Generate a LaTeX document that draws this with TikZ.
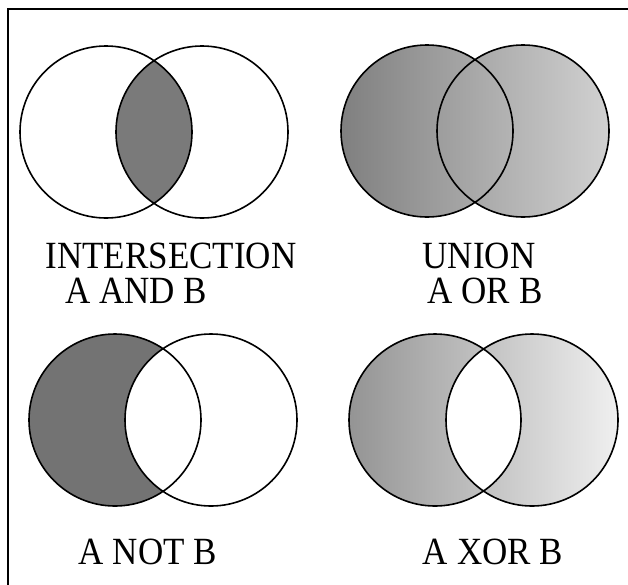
\documentclass[tikz,border=0pt]{standalone}
\usepackage{fontspec}
\setmainfont{Liberation Serif}
\begin{document}
\begin{tikzpicture}[x=1pt,y=-1pt,
        ring/.style={line width=1.6pt},
        label/.style={font=\fontsize{35}{40}\selectfont,inner sep=0pt}]

        \useasboundingbox (0,0) rectangle (628,584);
        \clip (0,0) rectangle (628,584);
        \draw[line width=2pt] (8,9) rectangle (660,620);

        % A AND B
        \coordinate (IA) at (106,132);
        \coordinate (IB) at (202,132);
        \begin{scope}
        \clip (IA) circle[radius=86pt];
        \fill[black!52] (IB) circle[radius=86pt];
        \end{scope}
        \draw[ring] (IA) circle[radius=86pt] (IB) circle[radius=86pt];
        \node[label] (inter) at (171,256) {\scalebox{1}[1.1]{INTERSECTION}};
        \node[label] (and)   at (136,291) {\scalebox{1}[1.1]{A AND B}};

        % A OR B
        \coordinate (UA) at (427,131);
        \coordinate (UB) at (523,131);
        \shade[left color=black!50,right color=black!18]
            (UA) circle[radius=86pt] (UB) circle[radius=86pt];
        \draw[ring] (UA) circle[radius=86pt] (UB) circle[radius=86pt];
        \node[label] (union) at (479,256) {\scalebox{1}[1.1]{UNION}};
        \node[label] (or)    at (485,291) {\scalebox{1}[1.1]{A OR B}};

        % A NOT B
        \coordinate (NA) at (115,420);
        \coordinate (NB) at (211,420);
        \fill[black!55] (NA) circle[radius=86pt];
        \fill[white] (NB) circle[radius=86pt];
        \draw[ring] (NA) circle[radius=86pt] (NB) circle[radius=86pt];
        \node[label] (not) at (148,552) {\scalebox{1}[1.1]{A NOT B}};

        % A XOR B
        \coordinate (XA) at (435,420);
        \coordinate (XB) at (532,420);
        \shade[even odd rule,left color=black!42,right color=black!6]
            (XA) circle[radius=86pt] (XB) circle[radius=86pt];
        \draw[ring] (XA) circle[radius=86pt] (XB) circle[radius=86pt];
        \node[label] (xor) at (493,552) {\scalebox{1}[1.1]{A XOR B}};

        \end{tikzpicture}
\end{document}
